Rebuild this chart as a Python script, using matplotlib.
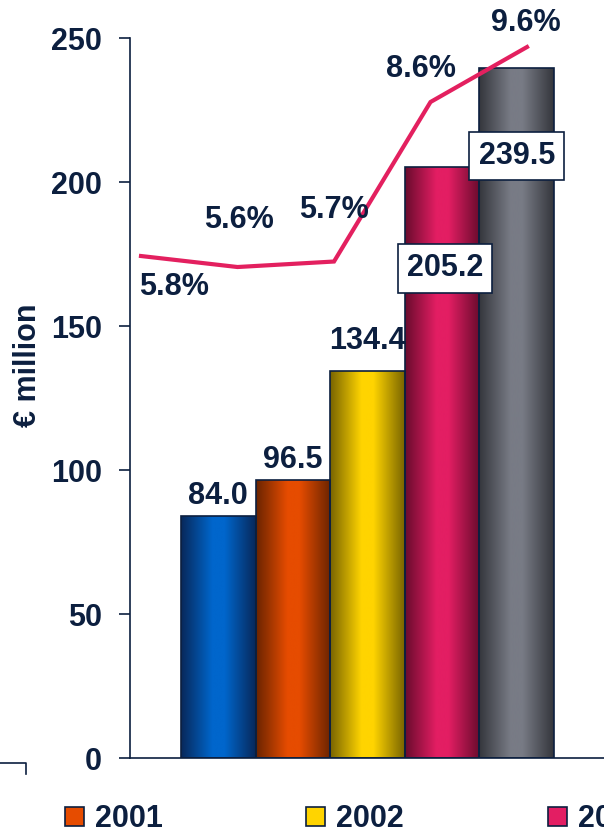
import numpy as np
import matplotlib.pyplot as plt
from matplotlib.colors import LinearSegmentedColormap
from matplotlib.patches import Patch
from matplotlib.lines import Line2D

plt.rcParams['font.family'] = ['Liberation Sans', 'DejaVu Sans']
plt.rcParams['font.weight'] = 'bold'

# data
years = ['2000', '2001', '2002', '2003', '2004']
sales = [84.0, 96.5, 134.4, 205.2, 239.5]
margin_pct = [5.8, 5.6, 5.7, 8.6, 9.6]
legend_years = ['2001', '2002', '2003']

navy = '#0c1f3f'
line_color = '#e3205f'
# (dark edge, light centre) for the shaded bars
bar_shades = [('#08285a', '#0066cc'),
              ('#6a2400', '#e64c00'),
              ('#786400', '#ffd400'),
              ('#690b2d', '#e31e63'),
              ('#34363c', '#787b85')]

fig = plt.figure(figsize=(6.04, 8.35), dpi=100)
ax = fig.add_axes([130 / 604, 1 - 758 / 835, 510 / 604, 720 / 835])

x = np.arange(len(sales))
bars = ax.bar(x, sales, width=1.0, color='none', edgecolor=navy, linewidth=1.2, zorder=3)

# horizontal gradient in each bar
grad = np.linspace(0, 1, 256).reshape(1, -1)
for bar, (dark, light) in zip(bars, bar_shades):
    cmap = LinearSegmentedColormap.from_list('shade', [(0, dark), (0.42, light), (0.58, light), (1, dark)])
    x0, w, h = bar.get_x(), bar.get_width(), bar.get_height()
    im = ax.imshow(grad, extent=[x0, x0 + w, 0, h], aspect='auto', cmap=cmap, zorder=2)
    im.set_clip_path(bar)

ax.set_xlim(-1.184, 5.653)
ax.set_ylim(0, 250)
ax.set_yticks([0, 50, 100, 150, 200, 250])
ax.set_xticks([])
for side in ['top', 'right']:
    ax.spines[side].set_visible(False)
ax.spines['left'].set_color(navy)
ax.spines['bottom'].set_color(navy)
ax.spines['left'].set_linewidth(1.2)
ax.spines['bottom'].set_linewidth(1.2)
ax.tick_params(axis='y', length=8, width=1.2, color=navy, pad=12,
               labelsize=22, labelcolor=navy)
for lab in ax.get_yticklabels():
    lab.set_fontweight('bold')

ax.set_ylabel('€ million', fontsize=22, color=navy, fontweight='bold', va='center')
ax.yaxis.set_label_coords(-0.2, 0.546)

# value labels, the two tall bars get a framed box inside the bar
label_offsets = [(0, 4), (0, 4), (0, 11), (2, -73), (0, -63)]
for i, (v, off) in enumerate(zip(sales, label_offsets)):
    if off[1] > 0:
        ax.annotate(f'{v:.1f}', (x[i], v), xytext=off, textcoords='offset points',
                    ha='center', va='bottom', fontsize=22, color=navy, fontweight='bold', zorder=5)
    else:
        ax.annotate(f'{v:.1f}', (x[i], v), xytext=off, textcoords='offset points',
                    ha='center', va='center', fontsize=22, color=navy, fontweight='bold', zorder=5,
                    bbox=dict(boxstyle='square,pad=0.3', fc='white', ec=navy, lw=1.2))

# margin line on its own overlay axes
ax2 = fig.add_axes(ax.get_position(), frameon=False)
ax2.plot(x, margin_pct, color=line_color, linewidth=3, solid_joinstyle='miter')
ax2.set_xlim(-0.114, 5.171)
ax2.set_ylim(-3.327, 9.764)
ax2.set_axis_off()

pct_offsets = [(24, -22), (1, 34), (0, 37), (-7, 24), (-1, 17)]
for i, (p, off) in enumerate(zip(margin_pct, pct_offsets)):
    ax2.annotate(f'{p:.1f}%', (x[i], p), xytext=off, textcoords='offset points',
                 ha='center', va='center', fontsize=22, color=navy, fontweight='bold',
                 annotation_clip=False)

# legend (cut off on the right like the original)
handles = [Patch(facecolor=bar_shades[years.index(y)][1], edgecolor=navy, linewidth=1.2)
           for y in legend_years]
leg = fig.legend(handles, legend_years, loc='center left', bbox_to_anchor=(65 / 604, 1 - 819 / 835),
                 ncol=3, frameon=False, fontsize=22, handlelength=0.62, handleheight=0.56,
                 handletextpad=0.36, columnspacing=4.7, borderpad=0, borderaxespad=0)
for t in leg.get_texts():
    t.set_color(navy)
    t.set_fontweight('bold')

# small corner bracket at bottom left
fig.add_artist(Line2D([0, 26 / 604, 26 / 604], [1 - 763 / 835, 1 - 763 / 835, 1 - 774 / 835],
                      color=navy, linewidth=1.2))

fig.savefig('out.png', dpi=100)
